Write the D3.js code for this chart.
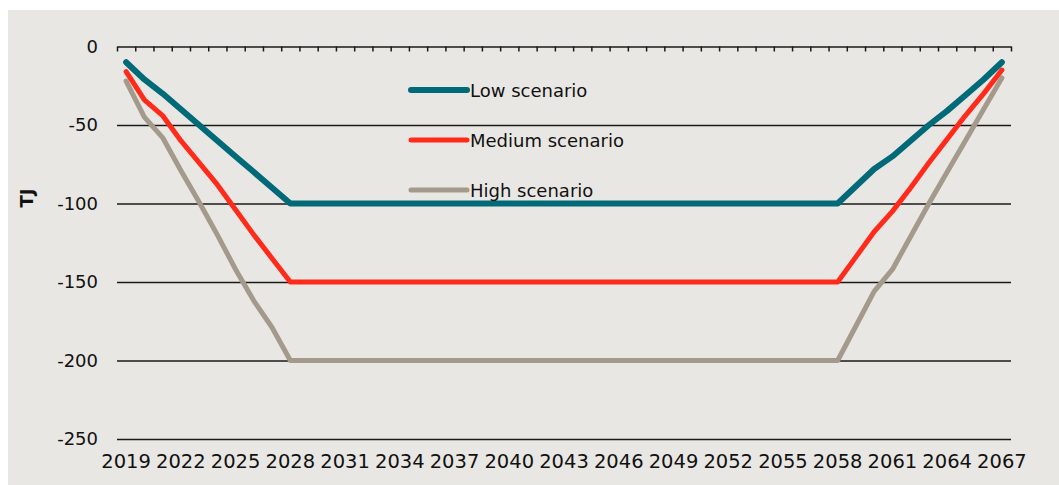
<!DOCTYPE html>
<html>
<head>
<meta charset="utf-8">
<script src="https://cdn.jsdelivr.net/npm/d3@7"></script>
<style>
  body { margin: 0; background: #fff; }
  svg { display: block; font-family: "DejaVu Sans", sans-serif; }
</style>
</head>
<body>
<div id="chart-area"></div>
<script>
// years 2019..2067
const years = d3.range(2019, 2068);

const lowValues = [-10, -21, -30, -40, -50, -60, -70, -80, -90, -100,
  -100, -100, -100, -100, -100, -100, -100, -100, -100, -100,
  -100, -100, -100, -100, -100, -100, -100, -100, -100, -100,
  -100, -100, -100, -100, -100, -100, -100, -100, -100, -100,
  -89, -78, -70, -60, -50, -41, -31, -21, -10];

const mediumValues = [-16, -34, -44, -60, -74, -88, -104, -120, -135, -150,
  -150, -150, -150, -150, -150, -150, -150, -150, -150, -150,
  -150, -150, -150, -150, -150, -150, -150, -150, -150, -150,
  -150, -150, -150, -150, -150, -150, -150, -150, -150, -150,
  -134, -118, -105, -90, -74, -59, -44, -30, -15];

const highValues = [-22, -45, -58, -79, -99, -120, -142, -162, -179, -200,
  -200, -200, -200, -200, -200, -200, -200, -200, -200, -200,
  -200, -200, -200, -200, -200, -200, -200, -200, -200, -200,
  -200, -200, -200, -200, -200, -200, -200, -200, -200, -200,
  -178, -156, -142, -121, -100, -80, -60, -40, -20];

const yTicks = [0, -50, -100, -150, -200, -250];
const xLabels = years.filter((d, i) => i % 3 === 0);

const series = [
  { name: "Low scenario", values: lowValues, color: "#006a78", width: 6 },
  { name: "Medium scenario", values: mediumValues, color: "#ff2a1a", width: 5 },
  { name: "High scenario", values: highValues, color: "#a39a8b", width: 5 }
];

const W = 1059, H = 485;
const m = { left: 117, right: 1011, top: 46.5, bottom: 439 };

const svg = d3.select("#chart-area").append("svg")
  .attr("width", W)
  .attr("height", H);

svg.append("rect")
  .attr("x", 8).attr("y", 10)
  .attr("width", W - 8).attr("height", H - 10)
  .attr("fill", "#e9e7e3");

const x = d3.scaleBand()
  .domain(years)
  .range([m.left, m.right])
  .padding(0);

const y = d3.scaleLinear()
  .domain([-250, 0])
  .range([m.bottom, m.top]);

// gridlines
svg.append("g")
  .attr("transform", `translate(${m.left},0)`)
  .call(d3.axisLeft(y).tickValues(yTicks.filter(d => d !== 0)).tickSize(-(m.right - m.left)).tickFormat(""))
  .call(g => g.select(".domain").remove())
  .call(g => g.selectAll("line").attr("stroke", "#1a1a1a").attr("stroke-width", 1.3));

// y labels (plain hyphen, not unicode minus)
svg.append("g")
  .attr("transform", `translate(${m.left},0)`)
  .call(d3.axisLeft(y).tickValues(yTicks).tickSize(0).tickPadding(19).tickFormat(d => String(d)))
  .call(g => g.select(".domain").remove())
  .call(g => g.selectAll("text").attr("font-size", 18).attr("font-family", "DejaVu Sans").attr("fill", "#111"));

// category axis at zero, ticks between categories
const edge = d3.scaleLinear().domain([0, years.length]).range([m.left, m.right]);
svg.append("g")
  .attr("transform", `translate(0,${y(0)})`)
  .call(d3.axisTop(edge).tickValues(d3.range(0, years.length + 1)).tickSizeInner(-5).tickSizeOuter(0).tickFormat(""))
  .call(g => g.select(".domain").attr("stroke", "#1a1a1a").attr("stroke-width", 1.5))
  .call(g => g.selectAll("line").attr("stroke", "#1a1a1a").attr("stroke-width", 1.5));

// x labels
svg.append("g")
  .attr("transform", `translate(0,${m.bottom})`)
  .call(d3.axisBottom(x).tickValues(xLabels).tickSize(0).tickPadding(15))
  .call(g => g.select(".domain").remove())
  .call(g => g.selectAll("text").attr("font-size", 19.5).attr("font-family", "DejaVu Sans").attr("fill", "#111"));

// y title
svg.append("text")
  .attr("transform", "translate(33,198) rotate(-90)")
  .attr("text-anchor", "middle")
  .attr("font-size", 18)
  .attr("font-weight", "bold")
  .attr("fill", "#111")
  .text("TJ");

const line = d3.line()
  .x((d, i) => x(years[i]) + x.bandwidth() / 2)
  .y(d => y(d));

series.forEach(s => {
  svg.append("path")
    .datum(s.values)
    .attr("fill", "none")
    .attr("stroke", s.color)
    .attr("stroke-width", s.width)
    .attr("stroke-linecap", "round")
    .attr("stroke-linejoin", "round")
    .attr("d", line);
});

// legend
const legend = svg.append("g").attr("transform", "translate(411,90)");
series.forEach((s, i) => {
  const g = legend.append("g").attr("transform", `translate(0,${i * 50})`);
  g.append("line")
    .attr("x1", 0).attr("x2", 56)
    .attr("stroke", s.color)
    .attr("stroke-width", s.width)
    .attr("stroke-linecap", "round");
  g.append("text")
    .attr("x", 59)
    .attr("y", 6.5)
    .attr("font-size", 18)
    .attr("fill", "#111")
    .text(s.name);
});
</script>
</body>
</html>
